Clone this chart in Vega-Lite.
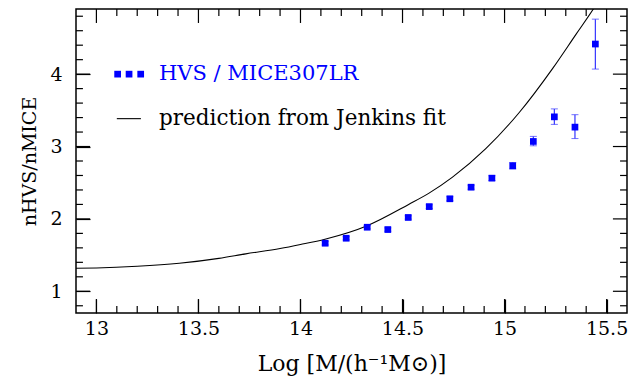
{
  "$schema": "https://vega.github.io/schema/vega-lite/v6.json",
  "width": 551,
  "height": 304,
  "autosize": {"type": "none"},
  "padding": {"left": 76, "top": 9, "right": 6, "bottom": 66},
  "background": "white",
  "config": {
    "view": {"stroke": "black", "strokeWidth": 1.5},
    "font": "DejaVu Serif",
    "axis": {
      "grid": false,
      "domain": true,
      "domainOpacity": 0,
      "labelFont": "DejaVu Serif",
      "titleFont": "DejaVu Serif",
      "labelColor": "black",
      "titleColor": "black",
      "tickColor": "black",
      "tickWidth": 1.2,
      "titleFontWeight": "normal",
      "labelFontSize": 19,
      "titleFontSize": 21
    }
  },
  "datasets": {
    "curve": [
      {"m": 12.9, "r": 1.318},
      {"m": 13.0, "r": 1.322},
      {"m": 13.2, "r": 1.345},
      {"m": 13.406, "r": 1.387},
      {"m": 13.6, "r": 1.455},
      {"m": 13.732, "r": 1.517},
      {"m": 13.9, "r": 1.59},
      {"m": 14.0, "r": 1.646},
      {"m": 14.12, "r": 1.72},
      {"m": 14.33, "r": 1.91},
      {"m": 14.53, "r": 2.2},
      {"m": 14.63, "r": 2.356},
      {"m": 14.745, "r": 2.577},
      {"m": 14.908, "r": 2.97},
      {"m": 15.072, "r": 3.47},
      {"m": 15.236, "r": 4.08},
      {"m": 15.35, "r": 4.55},
      {"m": 15.435, "r": 4.9},
      {"m": 15.5, "r": 5.2}
    ],
    "points": [
      {"m": 14.121, "r": 1.664, "lo": 1.64, "hi": 1.69},
      {"m": 14.224, "r": 1.733, "lo": 1.71, "hi": 1.755},
      {"m": 14.327, "r": 1.885, "lo": 1.862, "hi": 1.908},
      {"m": 14.428, "r": 1.853, "lo": 1.83, "hi": 1.876},
      {"m": 14.528, "r": 2.02, "lo": 1.997, "hi": 2.043},
      {"m": 14.631, "r": 2.17, "lo": 2.145, "hi": 2.195},
      {"m": 14.732, "r": 2.278, "lo": 2.25, "hi": 2.306},
      {"m": 14.836, "r": 2.438, "lo": 2.41, "hi": 2.466},
      {"m": 14.938, "r": 2.563, "lo": 2.53, "hi": 2.596},
      {"m": 15.04, "r": 2.734, "lo": 2.69, "hi": 2.778},
      {"m": 15.141, "r": 3.07, "lo": 3.01, "hi": 3.14},
      {"m": 15.244, "r": 3.41, "lo": 3.306, "hi": 3.52},
      {"m": 15.345, "r": 3.268, "lo": 3.11, "hi": 3.44},
      {"m": 15.445, "r": 4.416, "lo": 4.07, "hi": 4.76}
    ],
    "xMajor": [{"t": 13}, {"t": 13.5}, {"t": 14}, {"t": 14.5}, {"t": 15}, {"t": 15.5}],
    "xMinor": [{"t": 13.1}, {"t": 13.2}, {"t": 13.3}, {"t": 13.4}, {"t": 13.6}, {"t": 13.7}, {"t": 13.8}, {"t": 13.9}, {"t": 14.1}, {"t": 14.2}, {"t": 14.3}, {"t": 14.4}, {"t": 14.6}, {"t": 14.7}, {"t": 14.8}, {"t": 14.9}, {"t": 15.1}, {"t": 15.2}, {"t": 15.3}, {"t": 15.4}],
    "yMajor": [{"t": 1}, {"t": 2}, {"t": 3}, {"t": 4}],
    "yMinor": [{"t": 0.8}, {"t": 1.2}, {"t": 1.4}, {"t": 1.6}, {"t": 1.8}, {"t": 2.2}, {"t": 2.4}, {"t": 2.6}, {"t": 2.8}, {"t": 3.2}, {"t": 3.4}, {"t": 3.6}, {"t": 3.8}, {"t": 4.2}, {"t": 4.4}, {"t": 4.6}, {"t": 4.8}],
    "legendSq": [
      {"m": 13.104, "r": 4.0},
      {"m": 13.16, "r": 4.0},
      {"m": 13.217, "r": 4.0}
    ],
    "legendLine": [
      {"m": 13.1, "r": 3.385},
      {"m": 13.218, "r": 3.385}
    ],
    "legendText1": [{"m": 13.307, "r": 4.0, "label": "HVS / MICE307LR"}],
    "legendText2": [{"m": 13.307, "r": 3.385, "label": "prediction from Jenkins fit"}]
  },
  "layer": [
    {
      "data": {"name": "curve"},
      "mark": {"type": "line", "color": "black", "strokeWidth": 1.1, "clip": true, "interpolate": "monotone"},
      "encoding": {
        "x": {
          "field": "m", "type": "quantitative",
          "scale": {"domain": [12.9, 15.6], "nice": false, "zero": false},
          "axis": {
            "orient": "bottom",
            "values": [13, 13.5, 14, 14.5, 15, 15.5],
            "format": "~g",
            "offset": -14,
            "tickSize": 14,
            "labelPadding": 6,
            "labelFlush": false,
            "labelOverlap": false,
            "title": "Log  [M/(h⁻¹M⊙)]",
            "titleFontSize": 22,
            "titlePadding": 15
          }
        },
        "y": {
          "field": "r", "type": "quantitative",
          "scale": {"domain": [0.7, 4.9], "nice": false, "zero": false},
          "axis": {
            "orient": "left",
            "values": [1, 2, 3, 4],
            "format": "~g",
            "offset": -14,
            "tickSize": 14,
            "labelPadding": 14,
            "labelFlush": false,
            "labelOverlap": false,
            "title": "nHVS/nMICE",
            "titleFontSize": 19,
            "titlePadding": 10
          }
        }
      }
    },
    {
      "data": {"name": "xMajor"},
      "mark": {"type": "rule", "color": "black", "strokeWidth": 1.2},
      "encoding": {
        "x": {"field": "t", "type": "quantitative", "axis": null},
        "y": {"datum": 0.7, "type": "quantitative", "axis": null},
        "y2": {"datum": 0.893}
      }
    },
    {
      "data": {"name": "xMajor"},
      "mark": {"type": "rule", "color": "black", "strokeWidth": 1.2},
      "encoding": {
        "x": {"field": "t", "type": "quantitative", "axis": null},
        "y": {"datum": 4.9, "type": "quantitative", "axis": null},
        "y2": {"datum": 4.707}
      }
    },
    {
      "data": {"name": "xMinor"},
      "mark": {"type": "rule", "color": "black", "strokeWidth": 1.2},
      "encoding": {
        "x": {"field": "t", "type": "quantitative", "axis": null},
        "y": {"datum": 0.7, "type": "quantitative", "axis": null},
        "y2": {"datum": 0.797}
      }
    },
    {
      "data": {"name": "xMinor"},
      "mark": {"type": "rule", "color": "black", "strokeWidth": 1.2},
      "encoding": {
        "x": {"field": "t", "type": "quantitative", "axis": null},
        "y": {"datum": 4.9, "type": "quantitative", "axis": null},
        "y2": {"datum": 4.803}
      }
    },
    {
      "data": {"name": "yMajor"},
      "mark": {"type": "rule", "color": "black", "strokeWidth": 1.2},
      "encoding": {
        "y": {"field": "t", "type": "quantitative", "axis": null},
        "x": {"datum": 12.9, "type": "quantitative", "axis": null},
        "x2": {"datum": 12.969}
      }
    },
    {
      "data": {"name": "yMajor"},
      "mark": {"type": "rule", "color": "black", "strokeWidth": 1.2},
      "encoding": {
        "y": {"field": "t", "type": "quantitative", "axis": null},
        "x": {"datum": 15.6, "type": "quantitative", "axis": null},
        "x2": {"datum": 15.531}
      }
    },
    {
      "data": {"name": "yMinor"},
      "mark": {"type": "rule", "color": "black", "strokeWidth": 1.2},
      "encoding": {
        "y": {"field": "t", "type": "quantitative", "axis": null},
        "x": {"datum": 12.9, "type": "quantitative", "axis": null},
        "x2": {"datum": 12.934}
      }
    },
    {
      "data": {"name": "yMinor"},
      "mark": {"type": "rule", "color": "black", "strokeWidth": 1.2},
      "encoding": {
        "y": {"field": "t", "type": "quantitative", "axis": null},
        "x": {"datum": 15.6, "type": "quantitative", "axis": null},
        "x2": {"datum": 15.566}
      }
    },
    {
      "data": {"name": "points"},
      "mark": {"type": "errorbar", "color": "#3535ff", "ticks": {"size": 7, "color": "#3535ff"}, "rule": {"strokeWidth": 1.2}},
      "encoding": {
        "x": {"field": "m", "type": "quantitative", "axis": null},
        "y": {"field": "lo", "type": "quantitative", "axis": null},
        "y2": {"field": "hi"}
      }
    },
    {
      "data": {"name": "points"},
      "mark": {"type": "square", "color": "#0000ff", "size": 45, "opacity": 1},
      "encoding": {
        "x": {"field": "m", "type": "quantitative", "axis": null},
        "y": {"field": "r", "type": "quantitative", "axis": null}
      }
    },
    {
      "data": {"name": "legendSq"},
      "mark": {"type": "square", "color": "#0000ff", "size": 45, "opacity": 1},
      "encoding": {
        "x": {"field": "m", "type": "quantitative", "axis": null},
        "y": {"field": "r", "type": "quantitative", "axis": null}
      }
    },
    {
      "data": {"name": "legendLine"},
      "mark": {"type": "line", "color": "black", "strokeWidth": 1.1},
      "encoding": {
        "x": {"field": "m", "type": "quantitative", "axis": null},
        "y": {"field": "r", "type": "quantitative", "axis": null}
      }
    },
    {
      "data": {"name": "legendText1"},
      "mark": {"type": "text", "align": "left", "baseline": "middle", "font": "DejaVu Serif", "fontSize": 21, "color": "#0000ff"},
      "encoding": {
        "x": {"field": "m", "type": "quantitative", "axis": null},
        "y": {"field": "r", "type": "quantitative", "axis": null},
        "text": {"field": "label"}
      }
    },
    {
      "data": {"name": "legendText2"},
      "mark": {"type": "text", "align": "left", "baseline": "middle", "font": "DejaVu Serif", "fontSize": 21.5, "color": "black"},
      "encoding": {
        "x": {"field": "m", "type": "quantitative", "axis": null},
        "y": {"field": "r", "type": "quantitative", "axis": null},
        "text": {"field": "label"}
      }
    }
  ],
  "resolve": {"axis": {"x": "independent", "y": "independent"}}
}
